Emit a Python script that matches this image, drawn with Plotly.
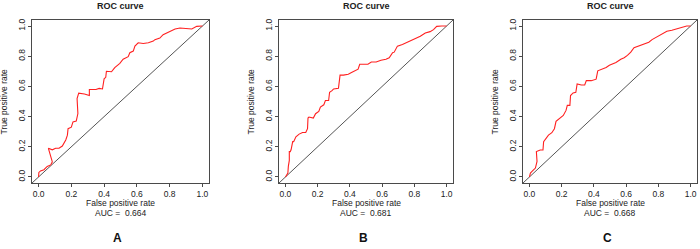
import plotly.graph_objects as go

# ---- data ----
fpr_a = [0, 0.002, 0.012, 0.033, 0.053, 0.074, 0.084, 0.074, 0.06, 0.084,
         0.104, 0.125, 0.145, 0.166, 0.176, 0.18, 0.2, 0.21, 0.23, 0.24,
         0.235, 0.245, 0.28, 0.31, 0.31, 0.35, 0.37, 0.39, 0.4, 0.41,
         0.414, 0.445, 0.465, 0.496, 0.516, 0.547, 0.557, 0.578, 0.588, 0.608,
         0.639, 0.67, 0.7, 0.71, 0.74, 0.76, 0.78, 0.8, 0.833, 0.863,
         0.904, 0.935, 0.965, 0.986, 1.0]
tpr_a = [0, 0.03, 0.04, 0.048, 0.07, 0.08, 0.10, 0.135, 0.19, 0.18,
         0.19, 0.19, 0.205, 0.245, 0.277, 0.32, 0.33, 0.365, 0.37, 0.42,
         0.52, 0.555, 0.55, 0.54, 0.58, 0.58, 0.587, 0.583, 0.65, 0.66,
         0.70, 0.697, 0.725, 0.753, 0.78, 0.797, 0.823, 0.834, 0.867, 0.889,
         0.884, 0.889, 0.9, 0.91, 0.92, 0.943, 0.954, 0.965, 0.98, 0.987,
         0.983, 0.98, 0.998, 1.0, 1.0]

fpr_b = [0, 0.004, 0.015, 0.018, 0.024, 0.024, 0.03, 0.035, 0.045, 0.051,
         0.065, 0.085, 0.106, 0.126, 0.137, 0.14, 0.146, 0.173, 0.187, 0.207,
         0.217, 0.238, 0.248, 0.268, 0.274, 0.289, 0.299, 0.329, 0.339, 0.36,
         0.39, 0.41, 0.43, 0.451, 0.461, 0.49, 0.512, 0.533, 0.563, 0.593,
         0.624, 0.644, 0.665, 0.675, 0.695, 0.726, 0.756, 0.787, 0.807, 0.837,
         0.868, 0.898, 0.919, 0.939, 0.97, 1.0]
tpr_b = [0, 0.005, 0.026, 0.07, 0.11, 0.168, 0.168, 0.18, 0.234, 0.234,
         0.266, 0.284, 0.295, 0.295, 0.32, 0.39, 0.397, 0.39, 0.419, 0.434,
         0.463, 0.478, 0.507, 0.507, 0.561, 0.572, 0.583, 0.587, 0.675, 0.675,
         0.681, 0.692, 0.703, 0.714, 0.747, 0.745, 0.747, 0.762, 0.762, 0.773,
         0.78, 0.79, 0.823, 0.827, 0.867, 0.878, 0.893, 0.906, 0.921, 0.932,
         0.954, 0.963, 0.976, 0.998, 1.0, 1.0]

fpr_c = [0, 0.006, 0.016, 0.027, 0.037, 0.047, 0.043, 0.067, 0.084, 0.088,
         0.104, 0.118, 0.139, 0.155, 0.165, 0.19, 0.21, 0.227, 0.235, 0.251,
         0.255, 0.271, 0.288, 0.296, 0.322, 0.343, 0.353, 0.384, 0.414, 0.424,
         0.451, 0.476, 0.496, 0.516, 0.537, 0.567, 0.588, 0.608, 0.629, 0.649,
         0.68, 0.71, 0.741, 0.761, 0.792, 0.822, 0.853, 0.884, 0.914, 0.945,
         0.976, 1.0]
tpr_c = [0, 0.026, 0.037, 0.048, 0.059, 0.103, 0.168, 0.179, 0.179, 0.234,
         0.255, 0.277, 0.293, 0.32, 0.369, 0.39, 0.408, 0.441, 0.474, 0.474,
         0.539, 0.557, 0.561, 0.616, 0.609, 0.609, 0.638, 0.638, 0.648, 0.703,
         0.714, 0.725, 0.74, 0.747, 0.758, 0.78, 0.79, 0.806, 0.827, 0.856,
         0.867, 0.878, 0.893, 0.91, 0.928, 0.948, 0.965, 0.972, 0.98, 0.987,
         1.0, 1.0]

auc_values = [0.664, 0.681, 0.668]
panel_letters = ["A", "B", "C"]
tick_vals = [0.0, 0.2, 0.4, 0.6, 0.8, 1.0]
tick_text = ["0.0", "0.2", "0.4", "0.6", "0.8", "1.0"]
axis_range = [-0.04, 1.04]

# ---- layout geometry (pixels) ----
W, H = 700, 249
box_left = [32, 279, 523]
box_right = [209, 453, 697]
box_top, box_bottom = 20, 183

def px(x):
    return x / W

def py(y):
    return 1 - y / H

curves = [(fpr_a, tpr_a), (fpr_b, tpr_b), (fpr_c, tpr_c)]

fig = go.Figure()
font_main = "Liberation Sans, Arial, sans-serif"
line_col = "#4a4a4a"
text_col = "#222222"

annotations = []
for i, (fx, ty) in enumerate(curves):
    sfx = "" if i == 0 else str(i + 1)
    xa, ya = "x" + sfx, "y" + sfx
    # diagonal reference line across the full plot region
    fig.add_trace(go.Scatter(x=axis_range, y=axis_range, mode="lines",
                             line=dict(color="#555555", width=1),
                             xaxis=xa, yaxis=ya, showlegend=False,
                             hoverinfo="skip"))
    fig.add_trace(go.Scatter(x=fx, y=ty, mode="lines",
                             line=dict(color="#ff2020", width=1.1),
                             xaxis=xa, yaxis=ya, showlegend=False))
    axis_common = dict(range=axis_range, tickvals=tick_vals, ticktext=tick_text,
                       showline=True, linecolor=line_col, linewidth=1,
                       mirror=True, ticks="outside", ticklen=3,
                       tickcolor=line_col, showgrid=False, zeroline=False,
                       tickfont=dict(family=font_main, size=8.5, color=text_col),
                       fixedrange=True)
    fig.layout["xaxis" + sfx] = dict(axis_common,
                                      domain=[px(box_left[i]), px(box_right[i])],
                                      anchor=ya)
    fig.layout["yaxis" + sfx] = dict(axis_common,
                                      domain=[py(box_bottom), py(box_top)],
                                      anchor=xa, tickangle=-90)
    cx = (box_left[i] + box_right[i]) / 2
    annotations += [
        dict(text="<b>ROC curve</b>", x=px(cx), y=py(6),
             font=dict(family=font_main, size=9, color=text_col)),
        dict(text="True positive rate", x=px(box_left[i] - 28),
             y=py((box_top + box_bottom) / 2), textangle=-90,
             font=dict(family=font_main, size=8.5, color=text_col)),
        dict(text="False positive rate", x=px(cx), y=py(203),
             font=dict(family=font_main, size=8.5, color=text_col)),
        dict(text="AUC =\u00a0\u00a0" + f"{auc_values[i]:.3f}", x=px(cx), y=py(213),
             font=dict(family=font_main, size=8.5, color=text_col)),
        dict(text="<b>" + panel_letters[i] + "</b>", x=px(cx - 3), y=py(238),
             font=dict(family="Liberation Sans Narrow, Arial Narrow, sans-serif",
                       size=12, color="#111111")),
    ]

for a in annotations:
    a.update(xref="paper", yref="paper", showarrow=False,
             xanchor="center", yanchor="middle")

fig.update_layout(width=W, height=H, margin=dict(l=0, r=0, t=0, b=0),
                  paper_bgcolor="white", plot_bgcolor="white",
                  annotations=annotations, showlegend=False)

fig.write_html("out.html",
               config={"displayModeBar": False, "staticPlot": True},
               post_script="document.body.style.margin='0';"
                           "document.body.style.padding='0';"
                           "document.body.style.overflow='hidden';")
